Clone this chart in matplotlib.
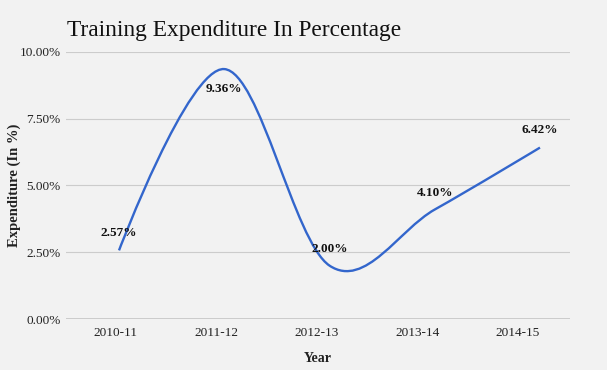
import matplotlib
matplotlib.use("Agg")
import matplotlib.pyplot as plt
import numpy as np
from matplotlib.path import Path as MPath
from matplotlib.patches import PathPatch


YEARS = ["2010-11", "2011-12", "2012-13", "2013-14", "2014-15"]
EXPENDITURE = [2.57, 9.36, 2.00, 4.10, 6.42]
LABELS = ["2.57%", "9.36%", "2.00%", "4.10%", "6.42%"]
Y_TICKS = [0, 2.5, 5.0, 7.5, 10.0]


def smooth_path(xs, ys, k=0.17):
    # cubic bezier through the points, tangents from the neighbours
    pts = np.column_stack([xs, ys]).astype(float)
    n = len(pts)
    tang = np.zeros_like(pts)
    for i in range(1, n - 1):
        tang[i] = k * (pts[i + 1] - pts[i - 1])
    verts = [pts[0]]
    codes = [MPath.MOVETO]
    for i in range(n - 1):
        verts += [pts[i] + tang[i], pts[i + 1] - tang[i + 1], pts[i + 1]]
        codes += [MPath.CURVE4] * 3
    return MPath(verts, codes)


def main() -> None:
    plt.rcParams["font.family"] = ["Liberation Serif", "DejaVu Serif"]
    bg = "#f2f2f2"
    fig = plt.figure(figsize=(6.07, 3.70), dpi=100, facecolor=bg)
    ax = fig.add_axes([0.1087, 0.1378, 0.8303, 0.7217], facecolor=bg)

    x = np.arange(len(YEARS))
    ax.add_patch(PathPatch(smooth_path(x, EXPENDITURE), facecolor="none",
                           edgecolor="#3366cc", lw=1.7, capstyle="butt", zorder=3))

    offsets = [17, -20, 17, 17, 18]
    for xi, yi, lab, off in zip(x, EXPENDITURE, LABELS, offsets):
        ax.annotate(lab, (xi, yi), xytext=(0, off), textcoords="offset pixels",
                    ha="center", va="center", fontsize=9.5, fontweight="bold",
                    color="#111111", zorder=4)

    ax.set_xlim(-0.504, 4.285)
    ax.set_ylim(0, 10)
    ax.set_yticks(Y_TICKS, [f"{v:.2f}%" for v in Y_TICKS])
    ax.set_xticks(x * 0.955 - 0.03, YEARS)
    ax.tick_params(length=0, labelsize=9.5, colors="#222222")
    ax.tick_params(axis="y", pad=4)
    ax.tick_params(axis="x", pad=6)
    for v in Y_TICKS[1:]:
        ax.axhline(v, color="#cccccc", lw=0.8, zorder=1)
    ax.axhline(0, color="#333333", lw=1.0, zorder=2)
    for s in ax.spines.values():
        s.set_visible(False)

    ax.set_xlabel("Year", fontsize=10, fontweight="bold", color="#222222", labelpad=9)
    ax.set_ylabel("Expenditure (In %)", fontsize=10.5, fontweight="bold", color="#222222")
    ax.yaxis.set_label_coords(-0.09, 0.5)
    fig.text(67 / 607, 1 - 36 / 370, "Training Expenditure In Percentage",
             fontsize=16.8, color="#111111", ha="left", va="baseline")

    fig.savefig("out.png", dpi=100, facecolor=bg)
    plt.close(fig)


if __name__ == "__main__":
    main()
